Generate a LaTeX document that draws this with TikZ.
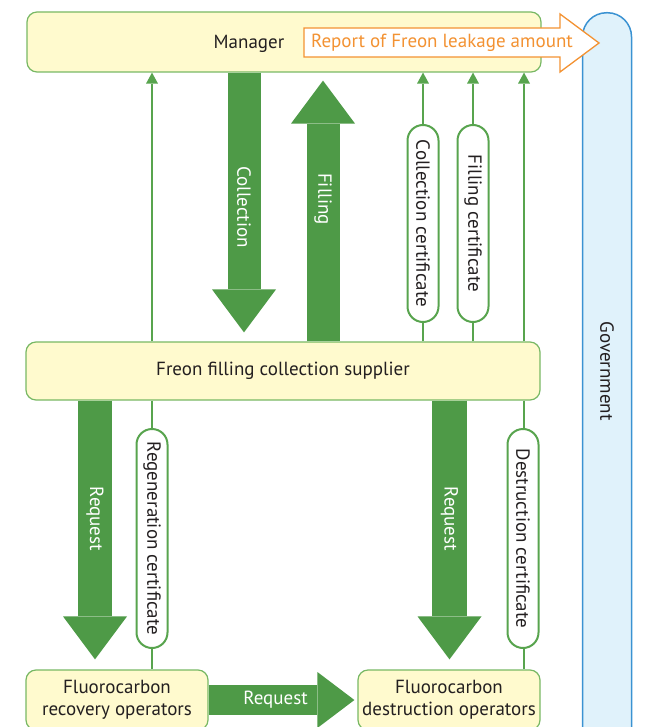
\documentclass[tikz,border=0pt]{standalone}
\usepackage{fontspec}
\setmainfont{PT Sans}
\usetikzlibrary{arrows.meta,shapes.misc}
\definecolor{flowgreen}{RGB}{78,154,71}
\definecolor{linegreen}{RGB}{88,164,78}
\definecolor{boxline}{RGB}{120,184,100}
\definecolor{boxfill}{RGB}{255,250,206}
\definecolor{reportorange}{RGB}{243,146,50}
\definecolor{govline}{RGB}{58,146,210}
\definecolor{govfill}{RGB}{224,242,251}
\definecolor{ink}{RGB}{35,31,32}
\begin{document}
\begin{tikzpicture}[x=1pt,y=-1pt,
  txt/.style={font=\fontsize{19}{22}\selectfont, text=ink},
  box/.style={draw=boxline, fill=boxfill, line width=1.2pt, rounded corners=10pt,
    inner sep=0pt, align=center, txt},
  gov/.style={draw=govline, fill=govfill, line width=1.5pt, rounded corners=24pt},
  cert/.style={draw=linegreen, fill=white, line width=2pt, rounded rectangle,
    rotate=-90, inner sep=0pt, minimum height=31pt, txt},
  flow/.style={draw=flowgreen, line width=33pt,
    -{Triangle[width=64pt,length=43pt,line width=0pt]}},
  flowlabel/.style={font=\fontsize{19}{22}\selectfont, text=white},
  link/.style={draw=linegreen, line width=2pt},
  linkup/.style={link, -{Triangle[width=12pt,length=11pt,line width=0pt]}},
]
\useasboundingbox (0,0) rectangle (646,727);
\clip (0,0) rectangle (646,727);

% government column on the right
\node[gov, minimum width=49pt, minimum height=820pt, anchor=north] (gov) at (607,12) {};
\node[txt, rotate=-90] (govlabel) at (607,371) {Government};

% main boxes
\node[box, minimum width=514pt, minimum height=60pt] (manager) at (284,42) {};
\node[txt] (managerlabel) at (249,44) {Manager};
\node[box, minimum width=514pt, minimum height=58pt] (supplier) at (283,371)
  {Freon filling collection supplier};
\node[box, minimum width=182pt, minimum height=60pt] (recovery) at (117,700)
  {Fluorocarbon\\recovery operators};
\node[box, minimum width=182pt, minimum height=60pt] (destruction) at (449,700)
  {Fluorocarbon\\destruction operators};

% report arrow towards the government
\draw[draw=reportorange, fill=white, line width=1.3pt, line join=miter]
  (304,28) -- (560,28) -- (560,14) -- (599,43) -- (560,72) -- (560,57) -- (304,57) -- cycle;
\node[font=\fontsize{19}{22}\selectfont, text=reportorange, inner sep=0pt] (report) at (442,43)
  {Report of Freon leakage amount};

% column positions
\coordinate (xcol) at (244,0);
\coordinate (xfill) at (323,0);
\coordinate (xreg) at (152,0);
\coordinate (xcc) at (423,0);
\coordinate (xfc) at (473,0);
\coordinate (xdc) at (524,0);
\coordinate (xreql) at (95,0);
\coordinate (xreqr) at (449.5,0);

% thin certificate lines
\draw[linkup] (supplier.north -| xreg) -- (manager.south -| xreg);
\draw[linkup] (supplier.north -| xcc) -- (manager.south -| xcc);
\draw[linkup] (supplier.north -| xfc) -- (manager.south -| xfc);
\draw[linkup] (supplier.north -| xdc) -- (manager.south -| xdc);
\draw[link] (supplier.south -| xreg) -- (recovery.north -| xreg);
\draw[link] (supplier.south -| xdc) -- (destruction.north -| xdc);

% certificates
\node[cert, minimum width=197pt] (collcert) at (423,223.5) {Collection certificate};
\node[cert, minimum width=197pt] (fillcert) at (473,223.5) {Filling certificate};
\node[cert, minimum width=219pt] (regcert) at (152,538.5) {Regeneration certificate};
\node[cert, minimum width=219pt] (destcert) at (523,538.5) {Destruction certificate};

% broad flows
\draw[flow, shorten >=9pt] (manager.south -| xcol) -- node[flowlabel, rotate=-90, pos=0.5] (collabel) {Collection} (supplier.north -| xcol);
\draw[flow, shorten >=8pt] (supplier.north -| xfill) -- node[flowlabel, rotate=-90, pos=0.53] (filllabel) {Filling} (manager.south -| xfill);
\draw[flow, line width=34pt, shorten >=10pt] (supplier.south -| xreql) -- node[flowlabel, rotate=-90, pos=0.44] (reqllabel) {Request} (recovery.north -| xreql);
\draw[flow, line width=35pt, shorten >=10pt] (supplier.south -| xreqr) -- node[flowlabel, rotate=-90, pos=0.44] (reqrlabel) {Request} (destruction.north -| xreqr);
\draw[flow, line width=30pt, -{Triangle[width=56pt,length=37pt,line width=0pt]}, shorten >=3pt]
  (recovery.east) -- node[flowlabel, pos=0.45] (reqhlabel) {Request} (destruction.west);
\end{tikzpicture}
\end{document}
